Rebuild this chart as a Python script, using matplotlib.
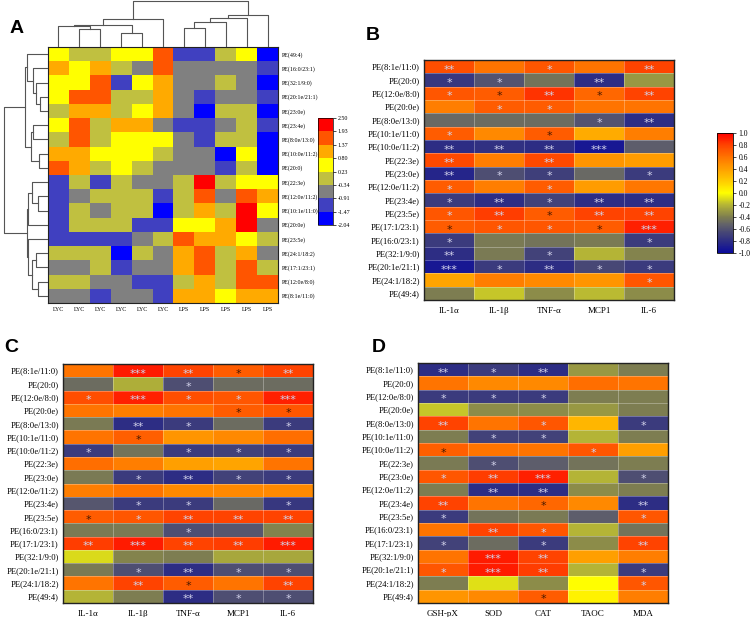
import numpy as np
import matplotlib
matplotlib.use("Agg")
import matplotlib.pyplot as plt
from matplotlib.colors import ListedColormap, BoundaryNorm, LinearSegmentedColormap, Normalize
from matplotlib.cm import ScalarMappable

plt.rcParams['font.family'] = ['Liberation Serif', 'DejaVu Serif']

W, H = 753, 617

# ---------------- Panel A data ----------------
A_rows = ["PE(49:4)", "PE(16:0/23:1)", "PE(32:1/9:0)", "PE(20:1e/21:1)", "PE(23:0e)",
          "PE(23:4e)", "PE(8:0e/13:0)", "PE(10:0e/11:2)", "PE(20:0)", "PE(22:3e)",
          "PE(12:0e/11:2)", "PE(10:1e/11:0)", "PE(20:0e)", "PE(23:5e)", "PE(24:1/18:2)",
          "PE(17:1/23:1)", "PE(12:0e/8:0)", "PE(8:1e/11:0)"]
A_cols = ["LYC"] * 6 + ["LPS"] * 5
A_vals = [
    [0.50, -0.05, -0.05, 0.50, 0.50, 1.65, -1.20, -1.20, -0.05, 0.50, -1.75],
    [1.10, 0.50, 1.10, -0.05, -0.62, 1.65, -0.62, -0.62, -0.62, -0.62, -1.20],
    [0.50, 0.50, 1.65, -1.20, 0.50, 1.10, -0.62, -0.62, -0.05, -0.62, -1.75],
    [0.50, 1.65, 1.65, -0.05, -0.05, 1.10, -0.62, -1.20, -0.62, -0.62, -1.20],
    [-0.05, 1.10, 1.10, -0.05, 0.50, 1.10, -0.62, -1.75, -0.05, -0.05, -1.75],
    [0.50, 1.65, -0.05, 1.10, 1.10, -0.62, -1.20, -1.20, -0.62, -0.05, -1.20],
    [-0.05, 1.65, -0.05, 0.50, 0.50, 0.50, -0.62, -1.20, -0.05, -0.05, -1.75],
    [1.10, 1.10, 0.50, 0.50, 0.50, -0.05, -0.62, -0.62, -1.75, 0.50, -1.75],
    [1.65, 1.10, -0.05, 0.50, -0.05, -0.62, -0.62, -0.62, -1.20, -0.05, -1.75],
    [-1.20, -0.05, -1.20, -0.05, -0.62, -0.62, -0.05, 2.20, -0.05, 0.50, 0.50],
    [-1.20, -0.62, -0.05, -0.05, -0.05, -1.20, -0.05, 1.65, -0.62, 1.65, 1.10],
    [-1.20, -0.05, -0.62, -0.05, -0.05, -1.75, -0.05, 1.10, -0.05, 2.20, 0.50],
    [-1.20, -0.05, -0.05, -0.05, -1.20, -1.20, 0.50, 0.50, 1.10, 2.20, -0.62],
    [-1.20, -1.20, -1.20, -1.20, -0.62, -0.05, 1.65, 1.10, 1.10, 0.50, -0.05],
    [-0.05, -0.05, -0.05, -1.75, -0.05, -0.62, 1.10, 1.65, -0.05, 1.10, -0.62],
    [-0.62, -0.62, -0.05, -1.20, -0.62, -0.62, 1.10, 1.65, -0.05, 1.65, -0.05],
    [-0.05, -0.05, -0.62, -0.62, -1.20, -1.20, -0.05, 1.10, -0.05, 1.65, 1.65],
    [-0.62, -0.62, -1.20, -0.62, -0.62, -1.20, 1.10, 1.10, 0.50, 1.10, 1.10],
]
A_bounds = [-2.04, -1.47, -0.91, -0.34, 0.23, 0.80, 1.37, 1.93, 2.50]
A_colors = ["#0000ff", "#4040c0", "#808080", "#c0c040", "#ffff00", "#ffaa00", "#ff5500", "#ff0000"]

# dendrogram merges: (left node, right node, height in px)
A_col_merges = [(1, 2, 18), (0, 11, 21), (3, 4, 14), (12, 13, 22), (14, 5, 28),
                (6, 7, 19), (16, 8, 25), (17, 9, 29), (18, 10, 32), (15, 19, 46)]
A_row_merges = [(3, 4, 8), (2, 18, 12), (1, 19, 15), (0, 20, 21), (5, 6, 15), (7, 8, 9),
                (22, 23, 17), (21, 24, 23), (10, 11, 10), (9, 26, 16), (27, 12, 20),
                (14, 15, 12), (16, 17, 10), (29, 30, 16), (13, 31, 20), (28, 32, 21),
                (25, 33, 44)]

# ---------------- Panels B, C, D data ----------------
B_rows = ["PE(8:1e/11:0)", "PE(20:0)", "PE(12:0e/8:0)", "PE(20:0e)", "PE(8:0e/13:0)",
          "PE(10:1e/11:0)", "PE(10:0e/11:2)", "PE(22:3e)", "PE(23:0e)", "PE(12:0e/11:2)",
          "PE(23:4e)", "PE(23:5e)", "PE(17:1/23:1)", "PE(16:0/23:1)", "PE(32:1/9:0)",
          "PE(20:1e/21:1)", "PE(24:1/18:2)", "PE(49:4)"]
B_cols = ["IL-1\u03b1", "IL-1\u03b2", "TNF-\u03b1", "MCP1", "IL-6"]
B_vals = [
    [0.75, 0.60, 0.72, 0.60, 0.80],
    [-0.75, -0.60, -0.45, -0.80, -0.30],
    [0.72, 0.70, 0.85, 0.65, 0.80],
    [0.55, 0.70, 0.70, 0.60, 0.60],
    [-0.50, -0.48, -0.48, -0.60, -0.80],
    [0.70, 0.50, 0.70, 0.35, 0.55],
    [-0.80, -0.78, -0.80, -0.92, -0.55],
    [0.78, 0.55, 0.78, 0.45, 0.42],
    [-0.85, -0.62, -0.70, -0.50, -0.72],
    [0.70, 0.55, 0.70, 0.42, 0.58],
    [-0.72, -0.80, -0.68, -0.80, -0.80],
    [0.72, 0.82, 0.70, 0.80, 0.80],
    [0.70, 0.72, 0.72, 0.70, 0.90],
    [-0.72, -0.42, -0.45, -0.42, -0.72],
    [-0.80, -0.42, -0.68, -0.20, -0.38],
    [-0.92, -0.72, -0.80, -0.65, -0.72],
    [0.38, 0.55, 0.50, 0.45, 0.72],
    [-0.40, -0.15, -0.35, -0.18, -0.35],
]
B_stars = [
    ["**", "", "*", "", "**"], ["*", "*", "", "**", ""], ["*", "*", "**", "*", "**"],
    ["", "*", "*", "", ""], ["", "", "", "*", "**"], ["*", "", "*", "", ""],
    ["**", "**", "**", "***", ""], ["**", "", "**", "", ""], ["**", "*", "*", "", "*"],
    ["*", "", "*", "", ""], ["*", "**", "*", "**", "**"], ["*", "**", "*", "**", "**"],
    ["*", "*", "*", "*", "***"], ["*", "", "", "", "*"], ["**", "", "*", "", ""],
    ["***", "*", "**", "*", "*"], ["", "", "", "", "*"], ["", "", "", "", ""],
]
B_dark = [(2, 1), (2, 3), (5, 2), (11, 2), (12, 0), (12, 3)]

C_rows = ["PE(8:1e/11:0)", "PE(20:0)", "PE(12:0e/8:0)", "PE(20:0e)", "PE(8:0e/13:0)",
          "PE(10:1e/11:0)", "PE(10:0e/11:2)", "PE(22:3e)", "PE(23:0e)", "PE(12:0e/11:2)",
          "PE(23:4e)", "PE(23:5e)", "PE(16:0/23:1)", "PE(17:1/23:1)", "PE(32:1/9:0)",
          "PE(20:1e/21:1)", "PE(24:1/18:2)", "PE(49:4)"]
C_cols = ["IL-1\u03b1", "IL-1\u03b2", "TNF-\u03b1", "MCP1", "IL-6"]
C_vals = [
    [0.60, 0.92, 0.80, 0.70, 0.80],
    [-0.48, -0.22, -0.62, -0.48, -0.48],
    [0.75, 0.90, 0.75, 0.72, 0.90],
    [0.60, 0.55, 0.60, 0.70, 0.72],
    [-0.42, -0.80, -0.72, -0.48, -0.72],
    [0.60, 0.68, 0.45, 0.50, 0.62],
    [-0.72, -0.45, -0.72, -0.68, -0.72],
    [0.62, 0.55, 0.40, 0.38, 0.60],
    [-0.42, -0.72, -0.80, -0.68, -0.72],
    [0.55, 0.60, 0.50, 0.50, 0.50],
    [-0.58, -0.72, -0.72, -0.50, -0.75],
    [0.70, 0.72, 0.80, 0.80, 0.80],
    [-0.42, -0.42, -0.62, -0.58, -0.38],
    [0.82, 0.92, 0.80, 0.82, 0.92],
    [-0.10, -0.38, -0.40, -0.25, -0.25],
    [-0.42, -0.62, -0.80, -0.62, -0.62],
    [0.60, 0.80, 0.70, 0.60, 0.80],
    [-0.20, -0.40, -0.80, -0.62, -0.62],
]
C_stars = [
    ["", "***", "**", "*", "**"], ["", "", "*", "", ""], ["*", "***", "*", "*", "***"],
    ["", "", "", "*", "*"], ["", "**", "*", "", "*"], ["", "*", "", "", ""],
    ["*", "", "*", "*", "*"], ["", "", "", "", ""], ["", "*", "**", "*", "*"],
    ["", "", "", "", ""], ["", "*", "*", "", "*"], ["*", "*", "**", "**", "**"],
    ["", "", "*", "", ""], ["**", "***", "**", "**", "***"], ["", "", "", "", ""],
    ["", "*", "**", "*", "*"], ["", "**", "*", "", "**"], ["", "", "**", "*", "*"],
]
C_dark = [(0, 3), (3, 3), (3, 4), (5, 1), (11, 0), (16, 2)]

D_rows = ["PE(8:1e/11:0)", "PE(20:0)", "PE(12:0e/8:0)", "PE(20:0e)", "PE(8:0e/13:0)",
          "PE(10:1e/11:0)", "PE(10:0e/11:2)", "PE(22:3e)", "PE(23:0e)", "PE(12:0e/11:2)",
          "PE(23:4e)", "PE(23:5e)", "PE(16:0/23:1)", "PE(17:1/23:1)", "PE(32:1/9:0)",
          "PE(20:1e/21:1)", "PE(24:1/18:2)", "PE(49:4)"]
D_cols = ["GSH-pX", "SOD", "CAT", "TAOC", "MDA"]
D_vals = [
    [-0.80, -0.72, -0.80, -0.30, -0.40],
    [0.60, 0.50, 0.50, 0.62, 0.60],
    [-0.72, -0.72, -0.72, -0.40, -0.40],
    [-0.15, -0.35, -0.35, -0.30, -0.40],
    [0.80, 0.60, 0.72, 0.30, -0.72],
    [-0.40, -0.68, -0.68, -0.20, -0.40],
    [0.68, 0.60, 0.60, 0.72, 0.40],
    [-0.42, -0.62, -0.55, -0.45, -0.40],
    [0.72, 0.82, 0.90, -0.20, -0.62],
    [-0.40, -0.80, -0.80, -0.35, -0.40],
    [0.80, 0.60, 0.65, 0.50, -0.80],
    [-0.72, -0.45, -0.42, -0.55, 0.72],
    [0.60, 0.80, 0.72, -0.20, -0.45],
    [-0.68, -0.48, -0.72, -0.35, 0.80],
    [0.60, 0.92, 0.80, 0.40, 0.55],
    [0.72, 0.92, 0.82, -0.20, -0.72],
    [-0.40, -0.08, -0.35, 0.00, 0.72],
    [0.45, 0.50, 0.70, 0.05, 0.55],
]
D_stars = [
    ["**", "*", "**", "", ""], ["", "", "", "", ""], ["*", "*", "*", "", ""],
    ["", "", "", "", ""], ["**", "", "*", "", "*"], ["", "*", "*", "", ""],
    ["*", "", "", "*", ""], ["", "*", "", "", ""], ["*", "**", "***", "", "*"],
    ["", "**", "**", "", ""], ["**", "", "*", "", "**"], ["*", "", "", "", "*"],
    ["", "**", "*", "", ""], ["*", "", "*", "", "**"], ["", "***", "**", "", ""],
    ["*", "***", "**", "", "*"], ["", "", "", "", "*"], ["", "", "*", "", ""],
]
D_dark = [(6, 0), (10, 2), (17, 2)]

corr_ticks = [-1.0, -0.8, -0.6, -0.4, -0.2, 0.0, 0.2, 0.4, 0.6, 0.8, 1.0]

# ---------------- helpers ----------------
fig = plt.figure(figsize=(W / 100, H / 100), dpi=100)


def px_axes(x, y, w, h):
    return fig.add_axes([x / W, 1 - (y + h) / H, w / W, h / H])


corr_cmap = LinearSegmentedColormap.from_list("corr", [
    (0.0, "#0a0a9c"), (0.1, "#2e2e84"), (0.18, "#4a4a74"), (0.24, "#646468"),
    (0.3, "#7e7e50"), (0.4, "#b4b436"), (0.5, "#ffff00"), (0.6, "#ffcc00"),
    (0.7, "#ffa000"), (0.8, "#ff7400"), (0.9, "#ff4400"), (1.0, "#ff0000")])
corr_norm = Normalize(-1, 1)


def corr_panel(rect, vals, rows, cols, stars, dark):
    ax = px_axes(*rect)
    data = np.array(vals)
    nr, nc = data.shape
    ax.pcolormesh(np.arange(nc + 1), np.arange(nr + 1), data, cmap=corr_cmap, norm=corr_norm)
    for i in range(1, nc):
        ax.axvline(i, color="white", lw=0.6, alpha=0.35)
    for j in range(1, nr):
        ax.axhline(j, color="white", lw=0.6, alpha=0.35)
    ax.set_xlim(0, nc)
    ax.set_ylim(nr, 0)
    ax.set_xticks(np.arange(nc) + 0.5)
    ax.set_xticklabels(cols, fontsize=6.5)
    ax.set_yticks(np.arange(nr) + 0.5)
    ax.set_yticklabels(rows, fontsize=6.2)
    ax.tick_params(axis="y", length=0, pad=3)
    ax.tick_params(axis="x", length=0, pad=5)
    for s in ax.spines.values():
        s.set_linewidth(1.0)
        s.set_color("#222222")
    darkset = set(dark)
    for r in range(nr):
        for c in range(nc):
            st = stars[r][c]
            if st:
                col = "#4a1a00" if (r, c) in darkset else "#d2d2ea"
                ax.text(c + 0.5, r + 0.72, st, ha="center", va="center", fontsize=8,
                        color=col, family="DejaVu Sans")
    return ax


def dendro(ax, merges, n, vertical):
    pos = {i: i + 0.5 for i in range(n)}
    hgt = {i: 0.0 for i in range(n)}
    for k, (a, b, h) in enumerate(merges):
        xs = [pos[a], pos[a], pos[b], pos[b]]
        ys = [hgt[a], h, h, hgt[b]]
        if vertical:
            ax.plot(xs, ys, color="#555555", lw=0.8)
        else:
            ax.plot(ys, xs, color="#555555", lw=0.8)
        pos[n + k] = (pos[a] + pos[b]) / 2
        hgt[n + k] = h
    ax.axis("off")


# ---------------- Panel A ----------------
hx, hy, hw, hh = 48, 47, 230, 256
axA = px_axes(hx, hy, hw, hh)
cmapA = ListedColormap(A_colors)
normA = BoundaryNorm(A_bounds, cmapA.N)
dA = np.array(A_vals)
axA.pcolormesh(np.arange(dA.shape[1] + 1), np.arange(dA.shape[0] + 1), dA, cmap=cmapA, norm=normA)
axA.set_xlim(0, dA.shape[1])
axA.set_ylim(dA.shape[0], 0)
axA.yaxis.tick_right()
axA.set_yticks(np.arange(len(A_rows)) + 0.5)
axA.set_yticklabels(A_rows, fontsize=4.3)
axA.set_xticks(np.arange(len(A_cols)) + 0.5)
axA.set_xticklabels(A_cols, fontsize=4.3)
axA.tick_params(length=0, pad=3)
for s in axA.spines.values():
    s.set_linewidth(0.8)
    s.set_color("#222222")

axAc = px_axes(hx, 0, hw, hy)
dendro(axAc, A_col_merges, len(A_cols), True)
axAc.set_xlim(0, len(A_cols))
axAc.set_ylim(0, 47)

axAr = px_axes(0, hy, hx, hh)
dendro(axAr, A_row_merges, len(A_rows), False)
axAr.set_ylim(len(A_rows), 0)
axAr.set_xlim(48, 0)

caxA = px_axes(318, 118, 15, 107)
cbA = fig.colorbar(ScalarMappable(norm=normA, cmap=cmapA), cax=caxA, ticks=A_bounds)
cbA.ax.set_yticklabels(["%.2f" % t for t in A_bounds], fontsize=4.3)
cbA.ax.tick_params(length=2, width=0.5, pad=1.5)
cbA.outline.set_linewidth(0.5)

# ---------------- Panels B, C, D ----------------
corr_panel((424, 60, 250, 240), B_vals, B_rows, B_cols, B_stars, B_dark)
corr_panel((63, 364, 250, 239), C_vals, C_rows, C_cols, C_stars, C_dark)
corr_panel((418, 363, 250, 240), D_vals, D_rows, D_cols, D_stars, D_dark)

caxB = px_axes(717, 133, 16, 120)
cbB = fig.colorbar(ScalarMappable(norm=corr_norm, cmap=corr_cmap), cax=caxB, ticks=corr_ticks)
cbB.ax.set_yticklabels(["%.1f" % t for t in corr_ticks], fontsize=5.5)
cbB.ax.tick_params(length=2.5, width=0.5, pad=1.5)
cbB.outline.set_linewidth(0.6)

# panel letters
for lab, x, y in [("A", 10, 33), ("B", 366, 40), ("C", 4, 352), ("D", 372, 352)]:
    fig.text(x / W, 1 - y / H, lab, fontsize=14, fontweight="bold", family="Liberation Sans")

fig.savefig("out.png", dpi=100)
